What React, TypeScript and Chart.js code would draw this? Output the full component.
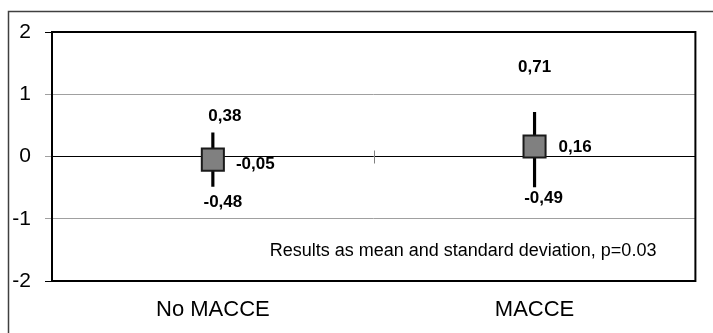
import React, { useEffect, useRef } from "react";
import { Chart, registerables } from "chart.js";

Chart.register(...registerables);

const categories = ["No MACCE", "MACCE"];
const means = [-0.05, 0.16];
const upper = [0.38, 0.71];
const lower = [-0.48, -0.49];
const yTicks = [-2, -1, 0, 1, 2];
const note = "Results as mean and standard deviation, p=0.03";

// label offsets (px) relative to the marks, per category
const upperOffset = [
  { dx: 12, dy: -17 },
  { dx: 0, dy: -45 },
];
const meanOffset = [
  { dx: 12, dy: 5 },
  { dx: 13, dy: 1 },
];
const lowerOffset = [
  { dx: 10, dy: 16 },
  { dx: 9, dy: 11 },
];

const FONT = "'Liberation Sans', Arial, sans-serif";
const fmt = (v: number) => v.toFixed(2).replace(".", ",");

const decorPlugin = {
  id: "decor",
  beforeDraw(chart: any) {
    const ctx = chart.ctx;
    ctx.save();
    ctx.fillStyle = "#fff";
    ctx.fillRect(0, 0, chart.width, chart.height);
    ctx.restore();
  },
  afterDatasetsDraw(chart: any) {
    const ctx = chart.ctx;
    const xs = chart.scales.x;
    const ys = chart.scales.y;
    const area = chart.chartArea;
    ctx.save();
    // middle tick on the zero line
    const midX = (xs.getPixelForValue(0) + xs.getPixelForValue(1)) / 2;
    const zeroY = ys.getPixelForValue(0);
    ctx.strokeStyle = "#808080";
    ctx.lineWidth = 1;
    ctx.beginPath();
    ctx.moveTo(Math.round(midX) + 0.5, zeroY - 6);
    ctx.lineTo(Math.round(midX) + 0.5, zeroY + 7);
    ctx.stroke();

    // plot border
    ctx.strokeStyle = "#000";
    ctx.lineWidth = 2;
    ctx.strokeRect(area.left, area.top, area.right - area.left, area.bottom - area.top);

    // outer frame
    ctx.strokeStyle = "#404040";
    ctx.lineWidth = 1.5;
    ctx.strokeRect(8.5, 11.5, chart.width + 10, chart.height + 10);

    // data labels
    ctx.fillStyle = "#000";
    ctx.font = `bold 17px ${FONT}`;
    ctx.textBaseline = "middle";
    const meta = chart.getDatasetMeta(0);
    categories.forEach((_, i) => {
      const x = xs.getPixelForValue(i);
      const pt = meta.data[i];
      const half = pt.options.radius * Math.SQRT1_2;
      const yMean = ys.getPixelForValue(means[i]);
      const yUp = ys.getPixelForValue(upper[i]);
      const yLo = ys.getPixelForValue(lower[i]);
      ctx.textAlign = "center";
      ctx.fillText(fmt(upper[i]), x + upperOffset[i].dx, yUp + upperOffset[i].dy);
      ctx.fillText(fmt(lower[i]), x + lowerOffset[i].dx, yLo + lowerOffset[i].dy);
      ctx.textAlign = "left";
      ctx.fillText(fmt(means[i]), x + half + meanOffset[i].dx, yMean + meanOffset[i].dy);
    });

    // note
    ctx.font = `18px ${FONT}`;
    ctx.textAlign = "right";
    ctx.fillText(note, area.right - 39, ys.getPixelForValue(-1.5) + 1);
    ctx.restore();
  },
};

export default function App() {
  const ref = useRef<HTMLCanvasElement>(null);
  useEffect(() => {
    if (!ref.current) return;
    const chart = new Chart(ref.current, {
      type: "bar",
      data: {
        labels: categories,
        datasets: [
          {
            type: "line",
            data: means,
            showLine: false,
            pointStyle: "rect",
            pointRadius: 15.6,
            pointHoverRadius: 15.6,
            backgroundColor: "#808080",
            borderColor: "#1a1a1a",
            pointBorderWidth: 2,
            order: 1,
          } as any,
          {
            type: "bar",
            data: categories.map((_, i) => [lower[i], upper[i]]),
            backgroundColor: "#000",
            borderWidth: 0,
            barThickness: 2.5,
            order: 2,
          } as any,
        ],
      },
      options: {
        responsive: false,
        animation: false,
        layout: { padding: { top: 32, right: 16, left: 0, bottom: 0 } },
        plugins: {
          legend: { display: false },
          tooltip: { enabled: false },
        },
        scales: {
          x: {
            type: "category",
            offset: true,
            grid: { display: false, drawTicks: false },
            border: { display: false },
            ticks: {
              font: { size: 22, family: FONT },
              color: "#000",
              padding: 16,
              maxRotation: 0,
            },
            afterFit: (s: any) => {
              s.height = 52;
            },
          },
          y: {
            min: yTicks[0],
            max: yTicks[yTicks.length - 1],
            afterBuildTicks: (s: any) => {
              s.ticks = yTicks.map((v) => ({ value: v }));
            },
            grid: {
              color: (c: any) => (c.tick && c.tick.value === 0 ? "#000" : "#a0a0a0"),
              tickColor: (c: any) => (c.tick && Math.abs(c.tick.value) === 2 ? "#000" : "#a0a0a0"),
              lineWidth: 1,
              tickLength: 7,
            },
            border: { display: false },
            ticks: {
              font: { size: 21, family: FONT },
              color: "#000",
              padding: 14,
            },
            afterFit: (s: any) => {
              s.width = 52;
            },
          },
        },
      },
      plugins: [decorPlugin],
    });
    return () => chart.destroy();
  }, []);
  return (
    <div style={{ position: "fixed", left: 0, top: 0, width: 713, height: 333 }}>
      <canvas ref={ref} width={713} height={333} style={{ width: 713, height: 333 }} />
    </div>
  );
}
